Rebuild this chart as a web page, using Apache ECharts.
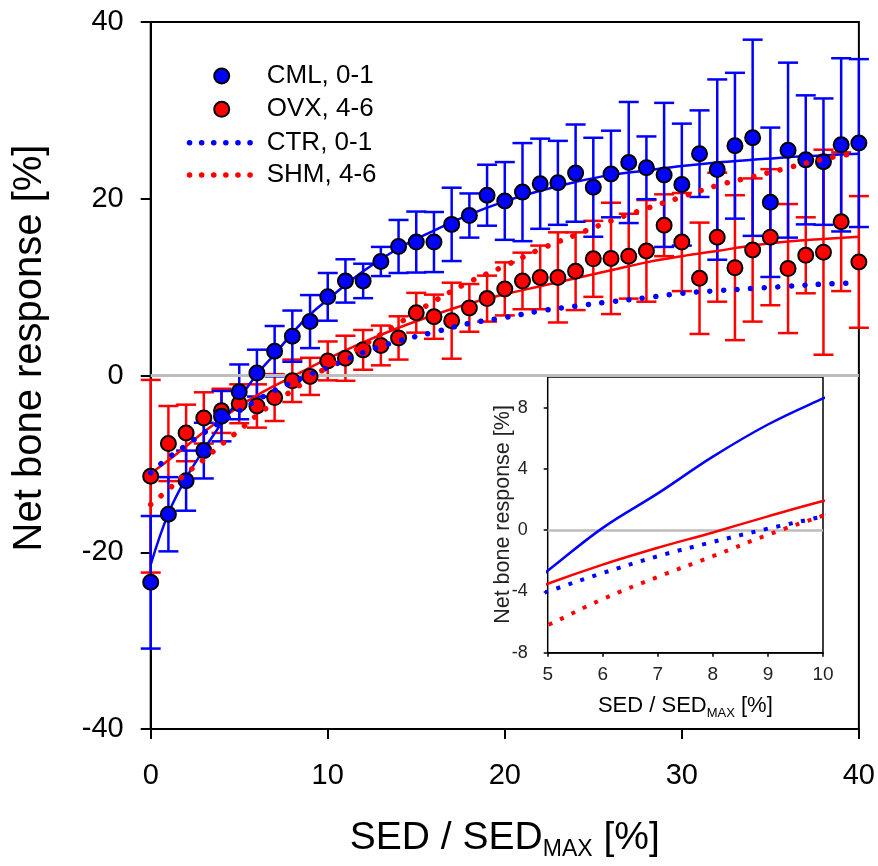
<!DOCTYPE html>
<html><head><meta charset="utf-8">
<script src="https://cdn.jsdelivr.net/npm/echarts@6/dist/echarts.min.js"></script>
<style>html,body{margin:0;padding:0;background:#fff}#c{width:878px;height:866px}</style>
</head><body><div id="c"></div>
<script>
// ---- data ----
const sed = [0,1,2,3,4,5,6,7,8,9,10,11,12,13,14,15,16,17,18,19,20,21,22,23,24,25,26,27,28,29,30,31,32,33,34,35,36,37,38,39,40];
const cmlMean = [-23.4,-15.7,-11.9,-8.5,-4.6,-1.85,0.27,2.75,4.45,6.1,8.9,10.7,10.7,12.9,14.6,15.1,15.1,17.1,18.1,20.4,19.75,20.75,21.7,21.8,22.9,21.3,22.8,24.1,23.5,22.7,21.6,25.1,23.3,26.0,26.9,19.6,25.5,24.4,24.2,26.1,26.3];
const cmlSD = [7.5,4.2,3.4,3.15,2.85,3.1,2.65,2.85,2.9,3.0,2.7,2.45,1.95,1.65,3.0,3.45,3.4,4.15,2.5,3.45,4.4,5.55,5.1,4.75,5.5,5.6,4.9,6.85,3.55,8.15,6.9,4.9,10.2,8.25,11.1,8.45,9.9,7.3,7.15,9.8,9.5];
const ovxMean = [-11.4,-7.7,-6.5,-4.8,-4.0,-3.2,-3.45,-2.5,-0.6,-0.1,1.65,1.95,2.9,3.4,4.25,7.1,6.65,6.2,7.65,8.7,9.8,10.7,11.1,11.1,11.8,13.2,13.25,13.5,14.1,17.0,15.1,11.0,15.65,12.2,14.2,15.65,12.1,13.6,13.95,17.4,12.85];
const ovxSD = [10.9,4.25,3.2,2.9,2.5,2.2,2.45,2.65,2.4,2.1,2.2,2.55,2.25,2.25,2.45,2.25,2.5,4.3,2.7,2.6,3.0,3.2,3.6,5.1,4.4,4.3,6.3,4.8,5.75,3.5,5.55,6.3,7.3,8.2,8.1,7.7,7.3,4.3,11.6,7.85,7.45];
const fitX = [0,1,2,3,4,5,6,7,8,9,10,12,14,16,18,20,22,24,26,28,30,32,34,36,38,40];
const cmlFit = [-21.4,-15.6,-11.6,-8.4,-5.4,-2.65,0.15,2.4,4.8,6.9,8.6,11.8,14.4,16.4,18.2,19.7,20.9,21.9,22.7,23.2,23.7,24.1,24.4,24.7,24.9,25.1];
const ovxFit = [-11.1,-9.6,-8.0,-6.4,-4.9,-3.5,-2.25,-1.15,-0.15,0.9,1.9,3.75,5.4,6.85,8.15,9.2,10.1,11.0,11.9,12.8,13.5,14.1,14.7,15.15,15.45,15.7];
const ctrFit = [-11.0,-9.3,-7.9,-6.5,-5.2,-4.0,-2.8,-1.7,-0.77,0.1,0.9,2.6,3.9,4.9,5.9,6.55,7.3,7.85,8.35,8.8,9.3,9.6,9.85,10.1,10.35,10.5];
const shmFit = [-14.6,-12.9,-11.1,-9.5,-7.8,-6.2,-4.5,-3.05,-1.7,-0.3,0.95,3.4,5.9,8.4,10.6,12.4,14.3,15.9,17.5,18.9,20.2,21.5,22.5,23.5,24.5,25.2];
const mainXTicks = [0,10,20,30,40];
const mainYTicks = [-40,-20,0,20,40];
const insetXTicks = [5,6,7,8,9,10];
const insetYTicks = [-8,-4,0,4,8];
const insetYMax = 10;
const names = ['CML, 0-1','OVX, 4-6','CTR, 0-1','SHM, 4-6'];
const yTitle = 'Net bone response [%]';

// ---- styling ----
const FF = 'Liberation Sans, Arial, Helvetica, sans-serif';
const BLUE = '#0000ff', RED = '#ff0000';
const chart = echarts.init(document.getElementById('c'), null, {renderer:'canvas'});

function errSeries(name, mean, sd, color, z, extra) {
  return Object.assign({
    type:'custom', name, xAxisIndex:0, yAxisIndex:0, z, clip:false,
    encode:{x:0, y:1},
    data: sed.map((x,i)=>[x, mean[i], sd[i]]),
    renderItem: (params, api) => {
      const x = api.value(0), m = api.value(1), s = api.value(2);
      const t = api.coord([x, m + s]), b = api.coord([x, m - s]);
      const hw = 10;
      const st = {stroke: color, lineWidth: 2.5};
      return {type:'group', children:[
        {type:'line', shape:{x1:t[0],y1:t[1],x2:b[0],y2:b[1]}, style:st},
        {type:'line', shape:{x1:t[0]-hw,y1:t[1],x2:t[0]+hw,y2:t[1]}, style:st},
        {type:'line', shape:{x1:b[0]-hw,y1:b[1],x2:b[0]+hw,y2:b[1]}, style:st}
      ]};
    }
  }, extra || {});
}
function fitLine(name, ys, color, dotted, xi, z, inset) {
  let ls;
  if (!dotted) ls = {color, width: 2.5, type:'solid'};
  else if (inset) ls = {color, width: 4, type:[4, 8.7], cap:'butt'};
  else ls = {color, width: 5.5, type:[0.1, 13.5], cap:'round'};
  return {type:'line', name, xAxisIndex:xi, yAxisIndex:xi, z, smooth:0.4,
    symbol:'none', showSymbol:false, silent:true,
    data: fitX.map((x,i)=>[x, ys[i]]), lineStyle: ls};
}
function scatter(name, mean, color, z) {
  return {type:'scatter', name, xAxisIndex:0, yAxisIndex:0, z, symbol:'circle', symbolSize:15,
    itemStyle:{color, borderColor:'#000', borderWidth:2, opacity:1},
    data: sed.map((x,i)=>[x, mean[i]])};
}
const zeroLine = (w) => ({silent:true, symbol:'none', label:{show:false},
  lineStyle:{color:'#bdbdbd', width:w, type:'solid'}, data:[{yAxis:0}]});

const axisLbl = (size, color, margin) => ({fontSize:size, color, fontFamily:FF, margin});
const xName = (big, small, lh) => ({
  fontFamily:FF, color:'#000',
  rich:{
    a:{fontSize:big, fontFamily:FF, color:'#000', lineHeight:lh},
    sub:{fontSize:small, fontFamily:FF, color:'#000', lineHeight:small, verticalAlign:'bottom'}
  }
});

const option = {
  animation:false,
  backgroundColor:'#fff',
  grid:[
    {left:150.7, top:22, width:710.3, height:708, show:true, borderColor:'#000', borderWidth:2, backgroundColor:'transparent'},
    {left:547.7, top:377, width:275.3, height:275.7, show:true, borderColor:'#000', borderWidth:1.5, backgroundColor:'#fff', z:1}
  ],
  xAxis:[
    {type:'value', gridIndex:0, min:mainXTicks[0], max:mainXTicks[mainXTicks.length-1], interval:10,
     axisLine:{show:true, onZero:false, lineStyle:{color:'#000', width:2}},
     axisTick:{show:true, inside:false, length:10, lineStyle:{color:'#000', width:2}},
     axisLabel:axisLbl(29, '#000', 32),
     splitLine:{show:false},
     name:'{a|SED / SED}{sub|MAX}{a| [%]}', nameLocation:'middle', nameGap:86,
     nameTextStyle:xName(39, 23, 46)},
    {type:'value', gridIndex:1, min:insetXTicks[0], max:insetXTicks[insetXTicks.length-1], interval:1,
     axisLine:{show:true, onZero:false, lineStyle:{color:'#000', width:1.5}},
     axisTick:{show:true, inside:false, length:4, lineStyle:{color:'#000', width:1.5}},
     axisLabel:axisLbl(19, '#222', 13),
     splitLine:{show:false},
     name:'{a|SED / SED}{sub|MAX}{a| [%]}', nameLocation:'middle', nameGap:40,
     nameTextStyle:xName(22, 13, 27)}
  ],
  yAxis:[
    {type:'value', gridIndex:0, min:mainYTicks[0], max:mainYTicks[mainYTicks.length-1], interval:20,
     axisLine:{show:true, onZero:false, lineStyle:{color:'#000', width:2}},
     axisTick:{show:true, inside:false, length:10, lineStyle:{color:'#000', width:2}},
     axisLabel:axisLbl(29, '#000', 27),
     splitLine:{show:false}},
    {type:'value', gridIndex:1, min:insetYTicks[0], max:insetYMax, interval:4,
     axisLine:{show:true, onZero:false, lineStyle:{color:'#000', width:1.5}},
     axisTick:{show:true, inside:false, length:4, lineStyle:{color:'#000', width:1.5}, customValues:insetYTicks},
     axisLabel:Object.assign(axisLbl(18, '#222', 20), {customValues:insetYTicks}),
     splitLine:{show:false}}
  ],
  graphic:[
    {type:'text', x:30, y:348, rotation:Math.PI/2, z:50,
     style:{text:yTitle, fontSize:40, fontFamily:FF, fill:'#000', align:'center', verticalAlign:'middle', textAlign:'center', textVerticalAlign:'middle'}},
    {type:'text', x:503, y:514.5, rotation:Math.PI/2, z:50,
     style:{text:yTitle, fontSize:21.5, fontFamily:FF, fill:'#222', align:'center', verticalAlign:'middle', textAlign:'center', textVerticalAlign:'middle'}},
    // legend
    {type:'circle', shape:{cx:221.7, cy:76, r:7.5}, z:50, style:{fill:BLUE, stroke:'#000', lineWidth:2}},
    {type:'circle', shape:{cx:221.7, cy:109.3, r:7.5}, z:50, style:{fill:RED, stroke:'#000', lineWidth:2}},
    {type:'line', shape:{x1:189.5, y1:142.7, x2:252, y2:142.7}, z:50, style:{stroke:BLUE, lineWidth:5.5, lineDash:[0.1,12], lineCap:'round'}},
    {type:'line', shape:{x1:189.5, y1:175, x2:252, y2:175}, z:50, style:{stroke:RED, lineWidth:5.5, lineDash:[0.1,12], lineCap:'round'}},
    {type:'text', x:266.7, y:76, z:50, style:{text:names[0], fontSize:26, fontFamily:FF, fill:'#000', verticalAlign:'middle', textVerticalAlign:'middle'}},
    {type:'text', x:266.7, y:109.3, z:50, style:{text:names[1], fontSize:26, fontFamily:FF, fill:'#000', verticalAlign:'middle', textVerticalAlign:'middle'}},
    {type:'text', x:266.7, y:142.7, z:50, style:{text:names[2], fontSize:26, fontFamily:FF, fill:'#000', verticalAlign:'middle', textVerticalAlign:'middle'}},
    {type:'text', x:266.7, y:175, z:50, style:{text:names[3], fontSize:26, fontFamily:FF, fill:'#000', verticalAlign:'middle', textVerticalAlign:'middle'}}
  ],
  series:[
    errSeries('ovxErr', ovxMean, ovxSD, RED, 2, {markLine: zeroLine(3)}),
    errSeries('cmlErr', cmlMean, cmlSD, BLUE, 3),
    fitLine(names[1]+' fit', ovxFit, RED, false, 0, 4),
    fitLine(names[0]+' fit', cmlFit, BLUE, false, 0, 4),
    scatter(names[1], ovxMean, RED, 5),
    scatter(names[0], cmlMean, BLUE, 6),
    fitLine(names[2], ctrFit, BLUE, true, 0, 7),
    fitLine(names[3], shmFit, RED, true, 0, 7),
    // inset
    Object.assign(fitLine('inset '+names[1], ovxFit, RED, false, 1, 20, true), {markLine: zeroLine(2.5)}),
    fitLine('inset '+names[0], cmlFit, BLUE, false, 1, 21, true),
    fitLine('inset '+names[2], ctrFit, BLUE, true, 1, 21, true),
    fitLine('inset '+names[3], shmFit, RED, true, 1, 21, true)
  ]
};
chart.setOption(option);
</script></body></html>
